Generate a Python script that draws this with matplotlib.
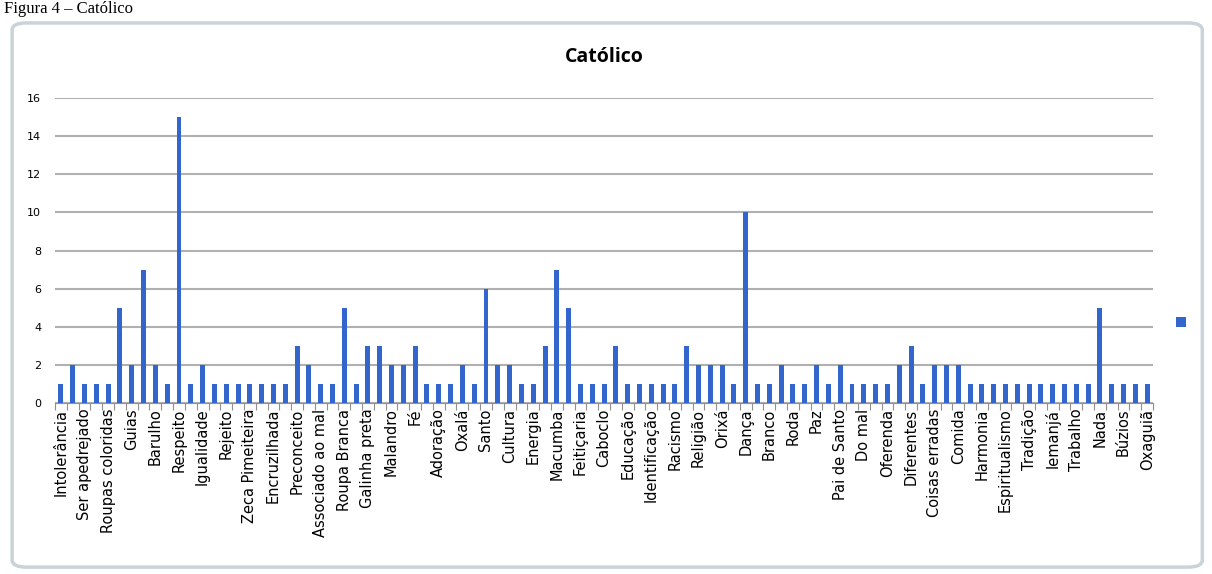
import matplotlib.pyplot as plt
from matplotlib.patches import FancyBboxPatch
import numpy as np

# every other category is labelled on the axis
labels = ["Intolerância", "Ser apedrejado", "Roupas coloridas", "Guias", "Barulho",
          "Respeito", "Igualidade", "Rejeito", "Zeca Pimeiteira", "Encruzilhada",
          "Preconceito", "Associado ao mal", "Roupa Branca", "Galinha preta", "Malandro",
          "Fé", "Adoração", "Oxalá", "Santo", "Cultura", "Energia", "Macumba",
          "Feitiçaria", "Caboclo", "Educação", "Identificação", "Racismo", "Religião",
          "Orixá", "Dança", "Branco", "Roda", "Paz", "Pai de Santo", "Do mal",
          "Oferenda", "Diferentes", "Coisas erradas", "Comida", "Harmonia",
          "Espiritualismo", "Tradição", "Iemanjá", "Trabalho", "Nada", "Búzios",
          "Oxaguiã"]

values = [1, 2, 1, 1, 1, 5, 2, 7, 2, 1,
          15, 1, 2, 1, 1, 1, 1, 1, 1, 1,
          3, 2, 1, 1, 5, 1, 3, 3, 2, 2,
          3, 1, 1, 1, 2, 1, 6, 2, 2, 1,
          1, 3, 7, 5, 1, 1, 1, 3, 1, 1,
          1, 1, 1, 3, 2, 2, 2, 1, 10, 1,
          1, 2, 1, 1, 2, 1, 2, 1, 1, 1,
          1, 2, 3, 1, 2, 2, 2, 1, 1, 1,
          1, 1, 1, 1, 1, 1, 1, 1, 5, 1,
          1, 1, 1]

y_ticks = list(range(0, 17, 2))

fig = plt.figure(figsize=(12.12, 5.74), dpi=100)

# chart frame (behind the axes)
frame = FancyBboxPatch((0.010, 0.012), 0.982, 0.948, boxstyle="round,pad=0,rounding_size=0.012",
                       transform=fig.transFigure, facecolor="white", edgecolor="#c8d4d8",
                       linewidth=2.5, zorder=-5)
fig.patches.append(frame)
fig.text(0.003, 0.999, "Figura 4 – Católico", family="Liberation Serif", fontsize=12,
         va="top", ha="left")

ax = fig.add_axes([0.0454, 0.298, 0.906, 0.531])
ax.patch.set_alpha(0)
x = np.arange(len(values))
ax.bar(x, values, width=0.42, color="#3366cc", zorder=3)

ax.set_xlim(-0.5, len(values) - 0.5)
ax.set_ylim(0, 16)
ax.set_yticks(y_ticks)
ax.yaxis.grid(True, color="#b0b0b0", linewidth=1.5)
ax.tick_params(axis="y", length=0, labelsize=8, pad=10)

# ticks at category boundaries, labels on every other category
ax.set_xticks(np.arange(-0.5, len(values), 1), minor=False)
ax.set_xticklabels([])
ax.tick_params(axis="x", which="major", length=5, color="#909090", direction="out")
ax.set_xticks(x[::2], minor=True)
ax.set_xticklabels(labels, minor=True, rotation=90, fontsize=10.5, family="DejaVu Sans")
ax.tick_params(axis="x", which="minor", length=0, pad=4)

for s in ["top", "right", "left"]:
    ax.spines[s].set_visible(False)
ax.spines["bottom"].set_color("#909090")

ax.set_title("Católico", fontsize=14, fontweight="bold", family="Open Sans", pad=26)

# legend marker (series without a name)
fig.patches.append(plt.Rectangle((0.9705, 0.431), 0.008, 0.016, transform=fig.transFigure,
                                 facecolor="#3366cc", edgecolor="none"))

fig.savefig("out.png", dpi=100)
